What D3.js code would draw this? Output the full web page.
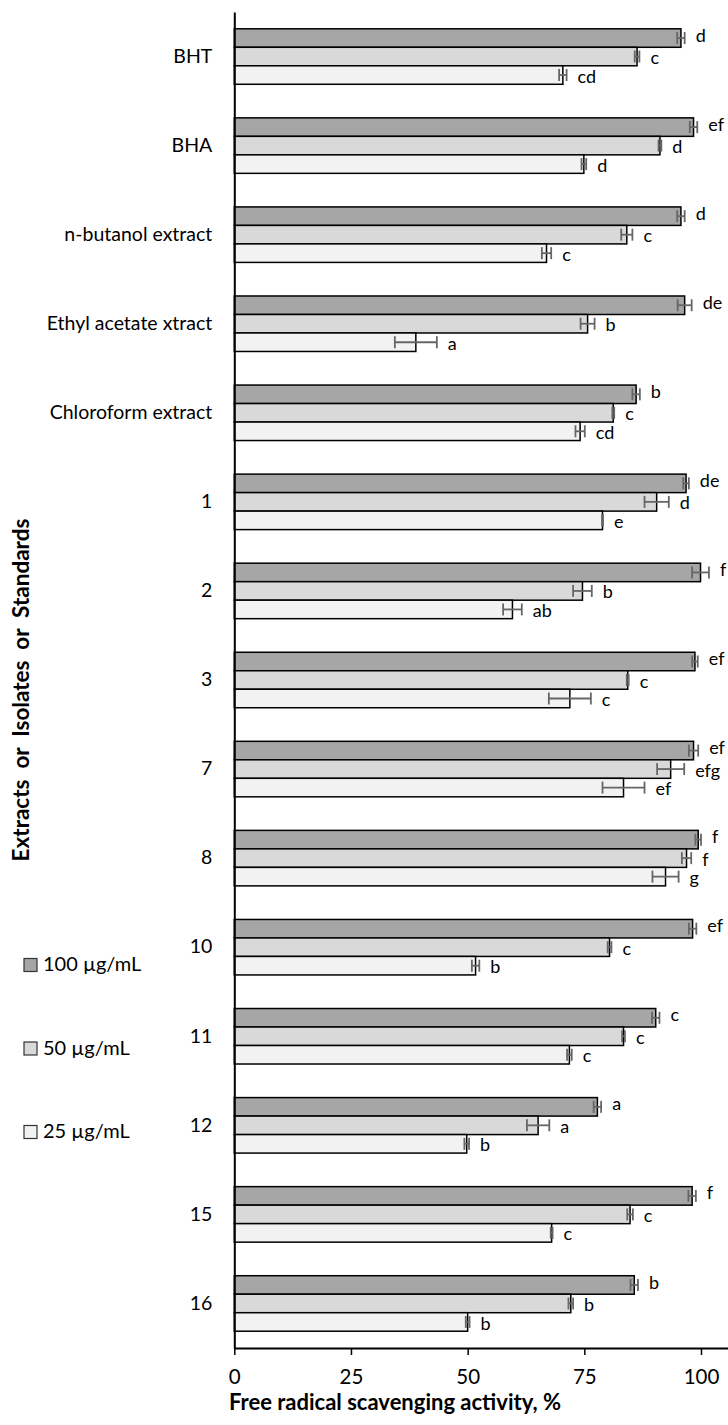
<!DOCTYPE html>
<html>
<head>
<meta charset="utf-8">
<script src="https://cdn.jsdelivr.net/npm/d3@7"></script>
<style>
  body { margin: 0; background: #fff; }
  svg text { font-family: Lato, "Open Sans", sans-serif; }
</style>
</head>
<body>
<div id="chart"></div>
<script>
// --------------- Data --------------- //

const categories = ["BHT", "BHA", "n-butanol extract", "Ethyl acetate xtract ", "Chloroform extract",
    "1", "2", "3", "7", "8", "10", "11", "12", "15", "16"];

const series = ["100 µg/mL", "50 µg/mL", "25 µg/mL"];

const values100 = [95.7, 98.4, 95.7, 96.5, 86.1, 96.8, 99.9, 98.7, 98.4, 99.4, 98.2, 90.3, 77.8, 98.1, 85.7];
const values50  = [86.3, 91.2, 84.1, 75.7, 81.2, 90.5, 74.6, 84.3, 93.5, 96.9, 80.4, 83.4, 65.1, 84.8, 72.1];
const values25  = [70.4, 74.9, 66.9, 38.9, 74.1, 78.9, 59.6, 71.9, 83.4, 92.4, 51.7, 71.8, 49.8, 68.0, 50.0];

const errors100 = [0.8, 0.8, 0.8, 1.5, 0.8, 0.6, 1.8, 0.6, 1.0, 0.6, 0.8, 0.8, 0.8, 0.8, 0.8];
const errors50  = [0.5, 0.3, 1.2, 1.5, 0.2, 2.6, 2.0, 0.2, 2.9, 1.0, 0.4, 0.3, 2.4, 0.6, 0.5];
const errors25  = [0.8, 0.5, 1.0, 4.5, 1.0, 0.1, 2.0, 4.5, 4.5, 2.8, 0.8, 0.5, 0.5, 0.2, 0.4];

const letters100 = ["d", "ef", "d", "de", "b", "de", "f", "ef", "ef", "f", "ef", "c", "a", "f", "b"];
const letters50  = ["c", "d", "c", "b", "c", "d", "b", "c", "efg", "f", "c", "c", "a", "c", "b"];
const letters25  = ["cd", "d", "c", "a", "cd", "e", "ab", "c", "ef", "g", "b", "c", "b", "c", "b"];

const xTicks = [0, 25, 50, 75, 100];

// --------------- Basic Setup --------------- //

const width = 728,
    height = 1425;

const colors = ["#a6a6a6", "#d9d9d9", "#f2f2f2"];

const svg = d3.select("#chart")
    .append("svg")
    .attr("width", width)
    .attr("height", height);

// table built from the arrays
const table = categories.map((c, i) => ({
    category: c,
    bars: [
        {s: series[0], v: values100[i], e: errors100[i], l: letters100[i], dy: -1},
        {s: series[1], v: values50[i], e: errors50[i], l: letters50[i], dy: 3},
        {s: series[2], v: values25[i], e: errors25[i], l: letters25[i], dy: 3}
    ]
}));

// Scales
const x = d3.scaleLinear()
    .domain([0, 106])
    .range([234.3, 234.3 + 106 * 4.667]);

const y = d3.scaleBand()
    .domain(categories)
    .range([12, 1348])
    .paddingInner(0.377)
    .paddingOuter(0.1885);

const ySub = d3.scaleBand()
    .domain(series)
    .range([0, y.bandwidth()]);

const color = d3.scaleOrdinal(series, colors);

// --------------- Bars --------------- //

const groups = svg.append("g")
    .selectAll("g")
    .data(table)
    .join("g")
    .attr("transform", d => `translate(0,${y(d.category)})`);

groups.selectAll("rect")
    .data(d => d.bars)
    .join("rect")
    .attr("x", x(0))
    .attr("y", d => ySub(d.s))
    .attr("width", d => x(d.v) - x(0))
    .attr("height", ySub.bandwidth())
    .attr("fill", d => color(d.s))
    .attr("stroke", "#000")
    .attr("stroke-width", 1.5);

// Error bars
const err = groups.selectAll("g.err")
    .data(d => d.bars)
    .join("g")
    .attr("class", "err")
    .attr("stroke", "#666")
    .attr("stroke-width", 1.8);

err.append("line")
    .attr("x1", d => x(d.v - d.e))
    .attr("x2", d => x(d.v + d.e))
    .attr("y1", d => ySub(d.s) + ySub.bandwidth() / 2)
    .attr("y2", d => ySub(d.s) + ySub.bandwidth() / 2);

err.selectAll("line.cap")
    .data(d => [d.v - d.e, d.v + d.e].map(v => ({v, s: d.s})))
    .join("line")
    .attr("class", "cap")
    .attr("x1", d => x(d.v))
    .attr("x2", d => x(d.v))
    .attr("y1", d => ySub(d.s) + ySub.bandwidth() / 2 - 6)
    .attr("y2", d => ySub(d.s) + ySub.bandwidth() / 2 + 6);

// Letters
groups.selectAll("text")
    .data(d => d.bars)
    .join("text")
    .attr("x", d => x(d.v + d.e) + 11)
    .attr("y", d => ySub(d.s) + ySub.bandwidth() / 2 + d.dy)
    .attr("dominant-baseline", "middle")
    .attr("font-size", 18)
    .attr("fill", "#000")
    .text(d => d.l);

// --------------- Axes --------------- //

const xAxis = svg.append("g")
    .attr("transform", `translate(0,1348)`)
    .call(d3.axisBottom(x).tickValues(xTicks).tickSize(7).tickSizeOuter(0).tickPadding(14));

xAxis.select(".domain").attr("stroke", "#000").attr("stroke-width", 2);
xAxis.selectAll(".tick line").attr("stroke", "#000").attr("stroke-width", 1.5);
xAxis.selectAll(".tick text")
    .attr("font-size", 20.5)
    .attr("fill", "#000");

const yAxis = svg.append("g")
    .attr("transform", `translate(${x(0)},0)`)
    .call(d3.axisLeft(y).tickSize(0).tickPadding(22));

yAxis.select(".domain").attr("stroke", "#000").attr("stroke-width", 2);
yAxis.selectAll(".tick text")
    .attr("font-size", 19.5)
    .attr("fill", "#000");

// Axis titles
svg.append("text")
    .attr("x", 395)
    .attr("y", 1410)
    .attr("text-anchor", "middle")
    .attr("font-size", 22)
    .attr("font-weight", "bold")
    .text("Free radical scavenging activity, %");

svg.append("text")
    .attr("transform", "translate(29,690) rotate(-90)")
    .attr("text-anchor", "middle")
    .attr("font-size", 22.5)
    .attr("font-weight", "bold")
    .text("Extracts\u00a0 or\u00a0 Isolates\u00a0 or\u00a0 Standards");

// --------------- Legend --------------- //

const legend = svg.append("g")
    .selectAll("g")
    .data(series)
    .join("g")
    .attr("transform", (d, i) => `translate(24,${965 + i * 83.5})`);

legend.append("rect")
    .attr("x", 0)
    .attr("y", -6.5)
    .attr("width", 13)
    .attr("height", 13)
    .attr("fill", d => color(d))
    .attr("stroke", "#333")
    .attr("stroke-width", 1.2);

legend.append("text")
    .attr("x", 19)
    .attr("y", 1)
    .attr("dominant-baseline", "middle")
    .attr("font-size", 20)
    .text(d => d);
</script>
</body>
</html>
